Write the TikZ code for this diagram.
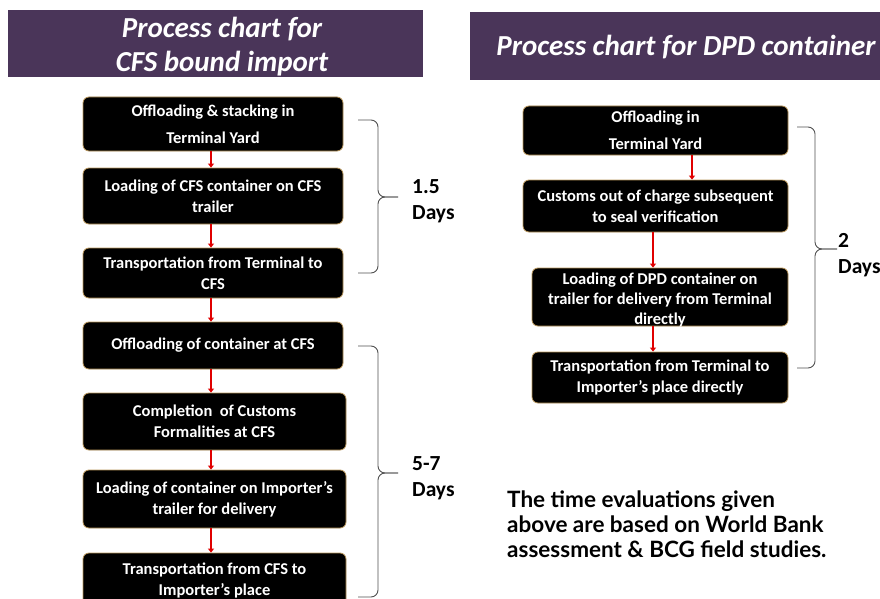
\documentclass[tikz,border=0pt]{standalone}
\usepackage{fontspec}
\setmainfont{Carlito}
\newfontfamily\notefont{Lato}
\usetikzlibrary{arrows.meta}
\definecolor{hdrpurple}{HTML}{4A3559}
\definecolor{boxedge}{HTML}{B8955A}
\definecolor{arrred}{HTML}{E00000}
\definecolor{bracegray}{HTML}{505050}
\begin{document}
\begin{tikzpicture}[x=1pt,y=-1pt,
  hdr/.style={fill=none, draw=none, text=white, font=\fontsize{29}{34}\selectfont\bfseries\itshape, align=center, inner sep=0pt},
  stepbox/.style={fill=black, draw=boxedge, line width=0.8pt, rounded corners=6pt, text=white, align=center, font=\fontsize{16.5}{21}\selectfont\bfseries, inner sep=1pt},
  steptext/.style={text=white, align=center, font=\fontsize{16.5}{20}\selectfont\bfseries, inner sep=0pt},
  arr/.style={draw=arrred, line width=1.8pt, -{Triangle[width=6pt,length=4pt]}},
  bracestyle/.style={draw=bracegray, line width=0.9pt, rounded corners=7pt},
  days/.style={font=\fontsize{21.5}{26}\selectfont\bfseries, anchor=west, inner sep=0pt, align=left},
  note/.style={font=\notefont\fontsize{22.5}{25}\selectfont\bfseries, anchor=north west, inner sep=0pt, align=left}
]
\useasboundingbox (0,0) rectangle (880,599);

% headers
\fill[hdrpurple] (8,10) rectangle (423,77);
\node[hdr] (T1) at (222,46.5) {Process chart for\\CFS bound import};
\fill[hdrpurple] (470,12) rectangle (885,80);
\node[hdr] (T2) at (686,47.5) {Process chart for DPD container};

% left column
\node[stepbox, minimum width=260pt, minimum height=54pt] (L1) at (213,124) {Offloading \& stacking in\\[6pt]Terminal Yard};
\node[stepbox, minimum width=260pt, minimum height=56pt] (L2) at (213,196) {Loading of CFS container on CFS\\trailer};
\node[stepbox, minimum width=260pt, minimum height=50pt] (L3) at (213,273) {Transportation from Terminal to\\CFS};
\node[stepbox, minimum width=260pt, minimum height=47pt] (L4) at (213,345.5) {Offloading of container at CFS};
\node[stepbox, minimum width=263pt, minimum height=57pt] (L5) at (214.5,421.5) {Completion\ \ of Customs\\Formalities at CFS};
\node[stepbox, minimum width=263pt, minimum height=58pt] (L6) at (214.5,499) {Loading of container on Importer’s\\trailer for delivery};
\node[stepbox, minimum width=263pt, minimum height=55pt] (L7) at (214.5,580.5) {Transportation from CFS to\\Importer’s place};

\draw[arr] ([xshift=-2pt]L1.south) -- ([xshift=-2pt]L2.north);
\draw[arr] ([xshift=-2pt]L2.south) -- ([xshift=-2pt]L3.north);
\draw[arr] ([xshift=-2pt]L3.south) -- ([xshift=-2pt]L4.north);
\draw[arr] ([xshift=-2pt]L4.south) -- ([xshift=-2pt]L4.south |- L5.north);
\draw[arr] ([xshift=-3.5pt]L5.south) -- ([xshift=-3.5pt]L6.north);
\draw[arr] ([xshift=-3.5pt]L6.south) -- ([xshift=-3.5pt]L7.north);

% right column
\node[stepbox, minimum width=265pt, minimum height=49pt] (R1) at (655.5,130.5) {Offloading in\\[6pt]Terminal Yard};
\node[stepbox, minimum width=265pt, minimum height=52pt] (R2) at (655.5,206) {Customs out of charge subsequent\\to seal verification};
\node[stepbox, minimum width=256pt, minimum height=58pt] (R3) at (660,297) {};
\node[steptext] (R3t) at ([yshift=-3pt]R3.center) {Loading of DPD container on\\trailer for delivery from Terminal\\directly};
\node[stepbox, minimum width=256pt, minimum height=51pt] (R4) at (660,377.5) {Transportation from Terminal to\\Importer’s place directly};

\draw[arr] ([xshift=36.5pt]R1.south) -- ([xshift=36.5pt]R1.south |- R2.north);
\draw[arr] ([xshift=-2.5pt]R2.south) -- ([xshift=-2.5pt]R2.south |- R3.north);
\draw[arr] ([xshift=-7pt]R3.south) -- ([xshift=-7pt]R4.north);

% braces
\draw[bracestyle] (358,120) -- (378,120) -- (378,197) -- (398,197);
\draw[bracestyle] (398,197) -- (378,197) -- (378,273) -- (358,273);
\node[days] (D1) at (412,201) {1.5\\Days};

\draw[bracestyle] (358,346) -- (378,346) -- (378,473) -- (398,473);
\draw[bracestyle] (398,473) -- (378,473) -- (378,597) -- (358,597);
\node[days] (D2) at (412,478) {5-7\\Days};

\draw[bracestyle] (797,127) -- (815,127) -- (815,249) -- (837,249);
\draw[bracestyle] (837,249) -- (815,249) -- (815,368) -- (797,368);
\node[days] (D3) at (838,255) {2\\Days};

% note
\node[note] (N) at (507,491) {The time evaluations given\\above are based on World Bank\\assessment \& BCG field studies.};
\end{tikzpicture}
\end{document}
